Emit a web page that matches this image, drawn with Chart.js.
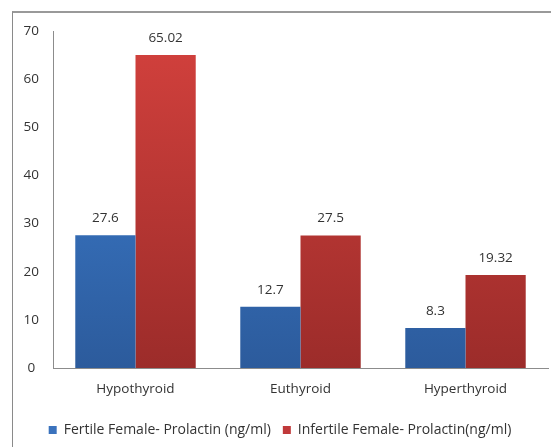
<!DOCTYPE html>
<html>
<head>
<meta charset="utf-8">
<script src="https://cdn.jsdelivr.net/npm/chart.js@4.4.1/dist/chart.umd.min.js"></script>
<style>
  html, body { margin: 0; padding: 0; background: #fff; overflow: hidden; }
  #wrap { position: relative; width: 551px; height: 447px; }
  #frame { position: absolute; left: 12px; top: 11px; width: 600px; height: 500px;
           border-left: 1px solid #8a8a8a; border-top: 2px solid #999; }
  canvas { position: absolute; left: 0; top: 0; }
</style>
</head>
<body>
<div id="wrap">
  <div id="frame"></div>
  <canvas id="result" width="551" height="447"></canvas>
</div>
<script>
var categories = ["Hypothyroid", "Euthyroid", "Hyperthyroid"];
var fertileValues = [27.6, 12.7, 8.3];
var infertileValues = [65.02, 27.5, 19.32];
var seriesNames = ["Fertile Female- Prolactin (ng/ml)", "Infertile Female- Prolactin(ng/ml)"];

var FONT = "'Open Sans', 'Liberation Sans', sans-serif";
var SIZE = 13.5;

// vertical shading for the bars, top lighter than bottom
function shade(top, bottom) {
    return function(c) {
        var area = c.chart.chartArea;
        if (!area) return top;
        var g = c.chart.ctx.createLinearGradient(0, area.top, 0, area.bottom);
        g.addColorStop(0, top);
        g.addColorStop(1, bottom);
        return g;
    };
}

// value labels above each bar
var valueLabels = {
    id: "valueLabels",
    afterDatasetsDraw: function(chart) {
        var ctx = chart.ctx;
        ctx.save();
        ctx.font = SIZE + "px " + FONT;
        ctx.fillStyle = "#333";
        ctx.textAlign = "center";
        ctx.textBaseline = "middle";
        chart.data.datasets.forEach(function(ds, i) {
            chart.getDatasetMeta(i).data.forEach(function(bar, j) {
                ctx.fillText(String(ds.data[j]), bar.x, bar.y - 17);
            });
        });
        ctx.restore();
    }
};

var ctx = document.getElementById("result").getContext("2d");
var chart = new Chart(ctx, {
    type: "bar",
    data: {
        labels: categories,
        datasets: [{
            label: seriesNames[0],
            data: fertileValues,
            backgroundColor: shade("#3f82d6", "#2c5b9c"),
            legendColor: "#3a72bd",
            borderWidth: 0
        }, {
            label: seriesNames[1],
            data: infertileValues,
            backgroundColor: shade("#d3413d", "#9c2c2a"),
            legendColor: "#c0393a",
            borderWidth: 0
        }]
    },
    options: {
        responsive: false,
        animation: false,
        layout: { padding: { left: 12, right: 3, top: 31, bottom: 0 } },
        datasets: { bar: { categoryPercentage: 0.73, barPercentage: 1.0 } },
        scales: {
            x: {
                grid: { display: false, drawTicks: false },
                border: { display: true, color: "#8c8c8c", width: 1 },
                ticks: { color: "#333", font: { family: FONT, size: SIZE }, padding: 13 },
                afterFit: function(s) { s.height = 43; }
            },
            y: {
                min: 0, max: 70,
                grid: { display: false, drawTicks: false },
                border: { display: true, color: "#8c8c8c", width: 1 },
                ticks: { stepSize: 10, color: "#333", font: { family: FONT, size: SIZE },
                         padding: 14, crossAlign: "center" },
                afterFit: function(s) { s.width = 41; }
            }
        },
        plugins: {
            legend: {
                position: "bottom",
                labels: {
                    color: "#333",
                    font: { family: FONT, size: 14 },
                    boxWidth: 8, boxHeight: 8, padding: 12,
                    generateLabels: function(c) {
                        return c.data.datasets.map(function(ds, i) {
                            return { text: ds.label, fillStyle: ds.legendColor, strokeStyle: ds.legendColor,
                                     lineWidth: 0, datasetIndex: i, fontColor: "#333" };
                        });
                    }
                }
            },
            tooltip: { enabled: false }
        }
    },
    plugins: [valueLabels]
});
</script>
</body>
</html>
